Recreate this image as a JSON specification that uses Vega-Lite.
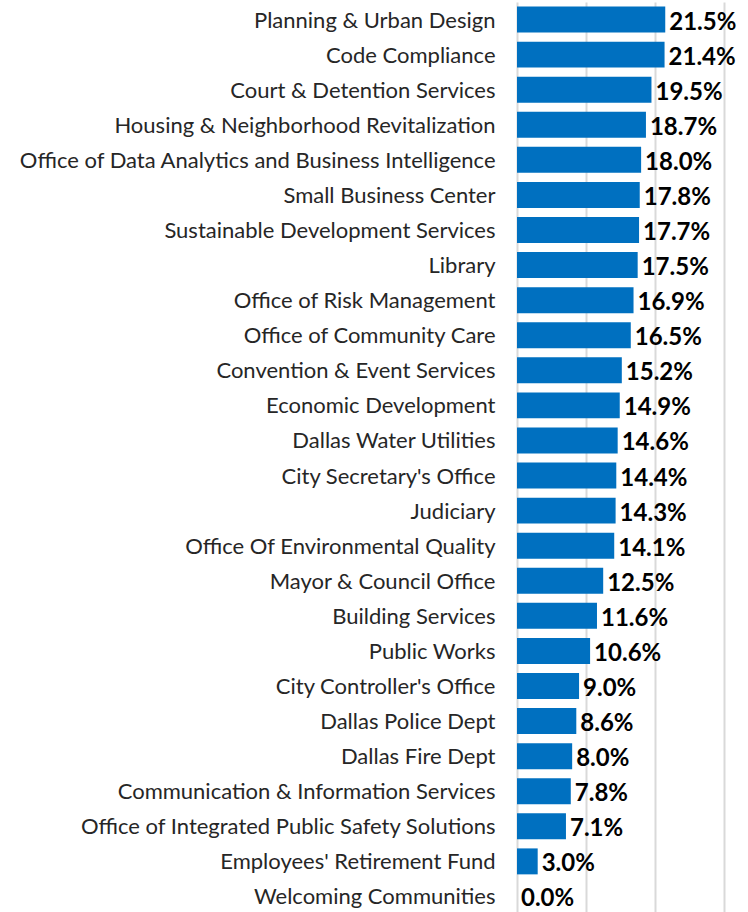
{
  "$schema": "https://vega.github.io/schema/vega-lite/v6.json",
  "autosize": {"type": "none"},
  "width": 231,
  "height": 912,
  "padding": {"left": 517, "top": 2, "right": 0, "bottom": 0},
  "background": "white",
  "config": {"view": {"stroke": null}, "font": "Lato"},
  "data": {"values": [
    {"dept": "Planning & Urban Design", "pct": 0.215},
    {"dept": "Code Compliance ", "pct": 0.214},
    {"dept": "Court & Detention Services", "pct": 0.195},
    {"dept": "Housing & Neighborhood Revitalization", "pct": 0.187},
    {"dept": "Office of Data Analytics and Business Intelligence ", "pct": 0.180},
    {"dept": "Small Business Center", "pct": 0.178},
    {"dept": "Sustainable Development Services", "pct": 0.177},
    {"dept": "Library", "pct": 0.175},
    {"dept": "Office of Risk Management", "pct": 0.169},
    {"dept": "Office of Community Care", "pct": 0.165},
    {"dept": "Convention & Event Services", "pct": 0.152},
    {"dept": "Economic Development ", "pct": 0.149},
    {"dept": "Dallas Water Utilities", "pct": 0.146},
    {"dept": "City Secretary's Office", "pct": 0.144},
    {"dept": "Judiciary", "pct": 0.143},
    {"dept": "Office Of Environmental Quality", "pct": 0.141},
    {"dept": "Mayor & Council Office", "pct": 0.125},
    {"dept": "Building Services ", "pct": 0.116},
    {"dept": "Public Works", "pct": 0.106},
    {"dept": "City Controller's Office", "pct": 0.090},
    {"dept": "Dallas Police Dept", "pct": 0.086},
    {"dept": "Dallas Fire Dept", "pct": 0.080},
    {"dept": "Communication & Information Services", "pct": 0.078},
    {"dept": "Office of Integrated Public Safety Solutions", "pct": 0.071},
    {"dept": "Employees' Retirement Fund ", "pct": 0.030},
    {"dept": "Welcoming Communities", "pct": 0.0}
  ]},
  "encoding": {
    "y": {"field": "dept", "type": "nominal", "sort": null,
      "scale": {"paddingInner": 0.26, "paddingOuter": 0.13},
      "axis": {"title": null, "domain": false, "ticks": false, "labelPadding": 22, "labelOffset": 1,
        "labelFontSize": 22, "labelColor": "#262626", "labelFont": "Lato", "labelLimit": 700}},
    "x": {"field": "pct", "type": "quantitative",
      "scale": {"domain": [0, 0.335], "nice": false, "zero": true},
      "axis": {"title": null, "labels": false, "ticks": false, "domain": false,
        "values": [0, 0.1, 0.2, 0.3], "grid": true, "gridColor": "#d9d9d9", "gridWidth": 2}}
  },
  "layer": [
    {"mark": {"type": "bar", "color": "#0070C0"}},
    {"mark": {"type": "text", "align": "left", "baseline": "middle", "dx": 4, "dy": 3,
      "fontSize": 24, "fontWeight": "bold", "color": "#000000", "font": "Lato"},
      "encoding": {"text": {"field": "pct", "type": "quantitative", "format": ".1%"}}}
  ]
}
